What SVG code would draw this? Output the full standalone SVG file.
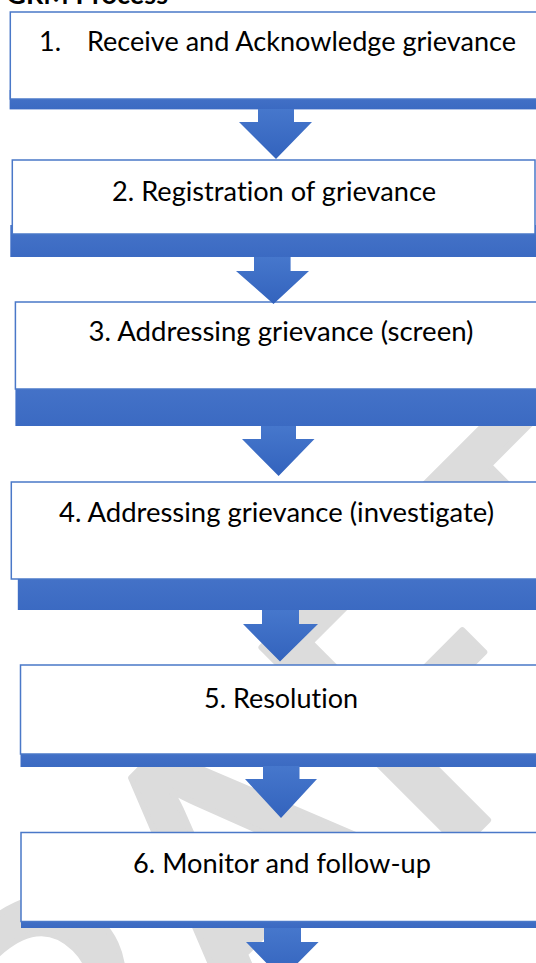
<svg xmlns="http://www.w3.org/2000/svg" width="536" height="963" viewBox="0 0 536 963">
  <defs>
    <linearGradient id="arrowGrad" x1="0" y1="0" x2="0" y2="1">
      <stop offset="0" stop-color="#4677cc"/>
      <stop offset="1" stop-color="#3363bd"/>
    </linearGradient>
    <linearGradient id="barGrad" x1="0" y1="0" x2="0" y2="1">
      <stop offset="0" stop-color="#4674c9"/>
      <stop offset="1" stop-color="#3b6ac2"/>
    </linearGradient>
  </defs>
  <style>
    .box { fill: #ffffff; stroke: #4a78c8; stroke-width: 1.5; }
    .bar { fill: url(#barGrad); }
    .arrow { fill: url(#arrowGrad); }
    .label { font-family: Lato, "Liberation Sans", sans-serif; font-size: 27px; fill: #000000; font-variant-ligatures: none; }
    .wm { font-family: Lato, "Liberation Sans", sans-serif; font-size: 394px; fill: #dcdcdc; stroke: #dcdcdc; stroke-width: 6; stroke-linejoin: round; font-variant-ligatures: none; }
    .title { font-family: Lato, "Liberation Sans", sans-serif; font-size: 27px; font-weight: bold; fill: #000000; }
  </style>

  <rect x="0" y="0" width="536" height="963" fill="#ffffff"/>

  <g id="watermark" transform="rotate(-45)">
    <text class="wm" x="-1069" y="925">D</text>
    <text class="wm" x="-800" y="925">R</text>
    <text class="wm" x="-438" y="925" text-anchor="middle">A</text>
    <text class="wm" x="-309" y="925">F</text>
    <text class="wm" x="-2.5" y="925" text-anchor="middle">T</text>
  </g>

  <text class="title" x="168" y="4" text-anchor="end">r GRM Process</text>

  <g id="step1">
    <rect class="bar" x="9.6" y="90" width="560" height="19.4"/>
    <rect class="box" x="10.3" y="12" width="560" height="87"/>
    <text class="label" x="39" y="51">1.</text>
    <text class="label" x="87" y="51" textLength="429" lengthAdjust="spacingAndGlyphs">Receive and Acknowledge grievance</text>
  </g>

  <g id="step2">
    <rect class="bar" x="10.3" y="225" width="560" height="32"/>
    <rect class="box" x="12.3" y="160" width="522.7" height="74"/>
    <text class="label" x="274" y="200.5" text-anchor="middle" textLength="324" lengthAdjust="spacingAndGlyphs">2. Registration of grievance</text>
  </g>

  <g id="step3">
    <rect class="bar" x="15.4" y="380" width="560" height="46"/>
    <rect class="box" x="15.4" y="302" width="560" height="87"/>
    <text class="label" x="281" y="341" text-anchor="middle" textLength="385" lengthAdjust="spacingAndGlyphs">3. Addressing grievance (screen)</text>
  </g>

  <g id="step4">
    <rect class="bar" x="17.8" y="570" width="560" height="40"/>
    <rect class="box" x="11.3" y="482" width="560" height="97"/>
    <text class="label" x="276.5" y="522" text-anchor="middle" textLength="435" lengthAdjust="spacingAndGlyphs">4. Addressing grievance (investigate)</text>
  </g>

  <g id="step5">
    <rect class="bar" x="20.5" y="745" width="560" height="22"/>
    <rect class="box" x="20.5" y="665" width="560" height="89"/>
    <text class="label" x="281" y="707.5" text-anchor="middle" textLength="154" lengthAdjust="spacingAndGlyphs">5. Resolution</text>
  </g>

  <g id="step6">
    <rect class="bar" x="21" y="912" width="560" height="16"/>
    <rect class="box" x="21" y="832.5" width="560" height="89"/>
    <text class="label" x="282" y="872.5" text-anchor="middle" textLength="298" lengthAdjust="spacingAndGlyphs">6. Monitor and follow-up</text>
  </g>

  <g id="connectors">
    <polygon class="arrow" points="258,109 294,109 294,122 312,122 276,159 239,122 258,122"/>
    <polygon class="arrow" points="254,257 290.6,257 290.6,271 309,271 273.5,304 236,271 254,271"/>
    <polygon class="arrow" points="261,426 296,426 296,439 314.5,439 278.6,476 242,439 261,439"/>
    <polygon class="arrow" points="262,610 299,610 299,624 318,624 280,661.5 243,624 262,624"/>
    <polygon class="arrow" points="263,766 299.5,766 299.5,779 317,779 281,818 245,779 263,779"/>
    <polygon class="arrow" points="264,928 301,928 301,942 318.6,942 282,979 246,942 264,942"/>
  </g>
</svg>
